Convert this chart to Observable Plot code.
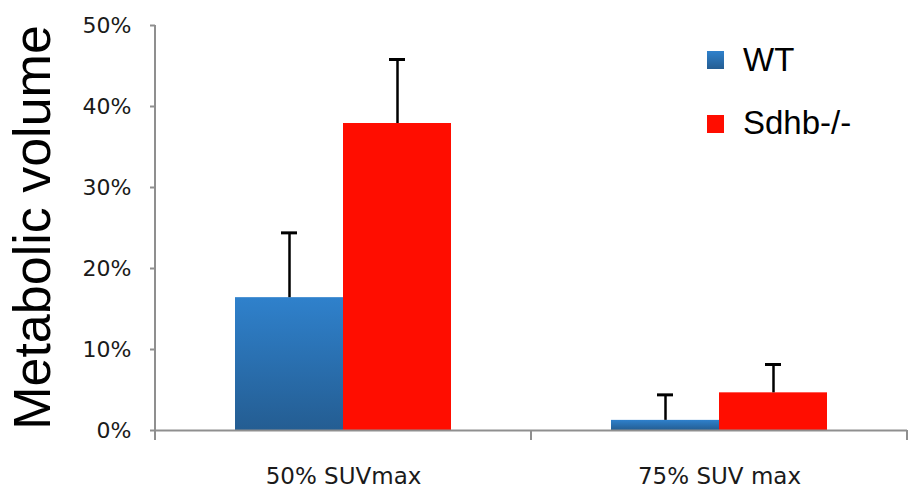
<!DOCTYPE html>
<html><head><meta charset="utf-8">
<script src="https://cdn.jsdelivr.net/npm/d3@7"></script>
<script src="https://cdn.jsdelivr.net/npm/@observablehq/plot@0.6"></script>
<style>body{margin:0;background:#fff;}</style>
</head><body><div id="chart"></div>
<script>
const categories = ["50% SUVmax", "75% SUV max"];
const series = ["WT", "Sdhb-/-"];
const wtMean = [16.4, 1.25];
const wtErr = [8.0, 3.15];
const sdhbMean = [37.9, 4.65];
const sdhbErr = [7.9, 3.5];
const yTicks = [0, 10, 20, 30, 40, 50];
const yTitle = "Metabolic volume";

const data = [];
categories.forEach((c, i) => {
  data.push({category: c, series: series[0], value: wtMean[i], err: wtErr[i]});
  data.push({category: c, series: series[1], value: sdhbMean[i], err: sdhbErr[i]});
});

const plot = Plot.plot({
  width: 909, height: 491,
  marginLeft: 155, marginRight: 2, marginTop: 25, marginBottom: 61,
  style: {fontFamily: "DejaVu Sans", background: "#fff", overflow: "visible"},
  fx: {domain: categories, padding: 0, label: null},
  x: {domain: series, paddingInner: 0, paddingOuter: 0.74, axis: null},
  y: {domain: [0, 50], ticks: yTicks, label: null},
  color: {domain: series, range: ["url(#wtGrad)", "#ff0d00"]},
  marks: [
    Plot.barY(data, {fx: "category", x: "series", y: "value", fill: "series"}),
    Plot.ruleX(data, {fx: "category", x: "series", y1: "value", y2: d => d.value + d.err, stroke: "#000", strokeWidth: 2.5}),
    Plot.tickY(data, {fx: "category", x: "series", y: d => d.value + d.err, stroke: "#000", strokeWidth: 3, inset: 46}),
    Plot.ruleY([0], {stroke: "#8f8f8f", strokeWidth: 2}),
    Plot.axisY({ticks: yTicks, tickFormat: d => d + "%", tickSize: 5, tickPadding: 19, fontSize: 22, stroke: "#8f8f8f", strokeWidth: 2, fill: "#1a1a1a", label: null}),
    Plot.axisFx({anchor: "bottom", tickSize: 0, tickPadding: 37, fontSize: 23, fill: "#1a1a1a", label: null})
  ]
});
document.getElementById("chart").appendChild(plot);

const svg = d3.select(plot);
const defs = svg.insert("defs", ":first-child");
const g = defs.append("linearGradient").attr("id", "wtGrad").attr("x1", 0).attr("y1", 0).attr("x2", 0).attr("y2", 1);
g.append("stop").attr("offset", "0%").attr("stop-color", "#2f81cc");
g.append("stop").attr("offset", "100%").attr("stop-color", "#245d92");

const fxS = plot.scale("fx"), yS = plot.scale("y");
const fx = d3.scaleBand().domain(fxS.domain).range(fxS.range).padding(0);
const y = d3.scaleLinear().domain(yS.domain).range(yS.range);
const axisColor = "#8f8f8f";
// y axis line
svg.append("line").attr("x1", fxS.range[0]).attr("x2", fxS.range[0])
  .attr("y1", y(50)).attr("y2", y(0)).attr("stroke", axisColor).attr("stroke-width", 2);
// boundary ticks on x axis
const bounds = [...fx.domain().map(d => fx(d)), fx(fx.domain()[fx.domain().length - 1]) + fx.bandwidth()];
bounds.forEach(b => svg.append("line").attr("x1", b).attr("x2", b).attr("y1", y(0)).attr("y2", y(0) + 10)
  .attr("stroke", axisColor).attr("stroke-width", 2));
// y title
svg.append("text").attr("transform", `translate(50,${(y(0) + y(50)) / 2}) rotate(-90)`)
  .attr("text-anchor", "middle").attr("font-family", "Liberation Sans").attr("font-size", 52)
  .attr("fill", "#000").text(yTitle);
// legend
const leg = [{s: series[0], fill: "url(#wtGrad)", top: 51, base: 71}, {s: series[1], fill: "#ff0d00", top: 115, base: 134}];
leg.forEach(l => {
  svg.append("rect").attr("x", 707).attr("y", l.top).attr("width", 17).attr("height", 18).attr("fill", l.fill);
  svg.append("text").attr("x", 743).attr("y", l.base).attr("text-anchor", "start").attr("font-family", "Liberation Sans").attr("font-size", 33)
    .attr("fill", "#000").text(l.s);
});
</script>
</body></html>
